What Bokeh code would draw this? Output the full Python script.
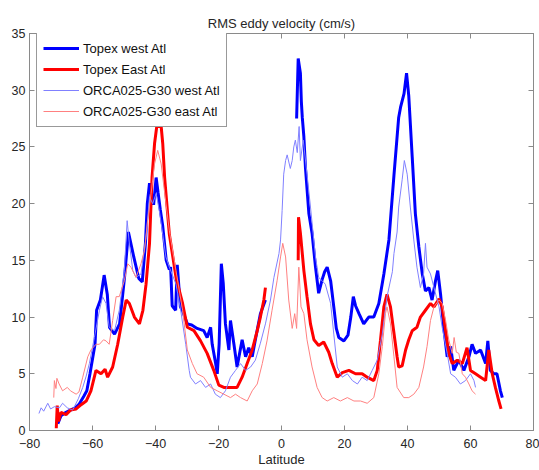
import numpy as np
from bokeh.plotting import figure
from bokeh.models import Range1d, LinearAxis, FixedTicker, CustomJSTickFormatter
from bokeh.embed import file_html
from bokeh.resources import INLINE

nan = np.nan

# Topex west Atl (thick blue) -- gap over the equator
tw_lat = [-71.0, -70.0, -68.4, -67.0, -65.5, -64.3, -62.8, -61.8, -60.8, -59.2, -58.7, -57.5, -56.3, -55.3,
          -54.6, -53.0, -51.4, -49.8, -48.6, -46.9, -45.3, -44.2, -43.2, -42.6, -41.9, -41.4, -40.6, -39.8,
          -39.2, -38.5, -37.7, -36.6, -35.6, -35.2, -34.7, -33.6, -33.1, -32.1, -31.5, -29.9, -28.5, -26.8,
          -24.7, -23.6, -22.5, -22.0, -20.9, -20.4, -19.8, -19.1, -18.5, -17.8, -16.7, -16.2, -15.1, -14.1,
          -12.5, -11.4, -10.4, -9.3, -8.3, -6.7, -5.1,
          nan,
          4.8, 5.3, 6.0, 6.3, 6.6, 7.1, 7.6, 8.7, 9.7, 10.8, 11.8, 12.9, 13.7, 14.5, 15.6, 16.6, 17.4, 18.2,
          19.8, 21.1, 22.0, 22.8, 23.5, 24.6, 26.1, 27.7, 29.3, 30.9, 32.5, 34.1, 35.7, 37.2, 37.8, 38.9,
          39.7, 40.4, 41.5, 42.5, 43.6, 44.7, 45.7, 46.8, 47.8, 48.9, 49.6, 50.5, 51.5, 52.6, 53.7, 54.7,
          56.3, 57.9, 59.5, 60.5, 61.6, 63.2, 64.8, 65.5, 66.3, 67.4, 68.4, 69.5, 70.1]
tw_val = [0.6, 1.3, 1.6, 1.8, 2.0, 2.3, 3.0, 3.5, 5.0, 7.6, 10.6, 11.5, 13.7, 12.0,
          9.1, 8.5, 9.4, 13.6, 17.5, 15.3, 13.4, 13.1, 16.5, 20.0, 21.8, 21.0, 19.9, 22.3,
          21.0, 19.5, 18.0, 15.0, 14.2, 14.4, 11.0, 10.6, 14.6, 10.9, 10.6, 9.4, 9.3, 9.0,
          8.8, 8.2, 9.1, 7.6, 5.9, 5.0, 7.6, 14.7, 13.0, 9.4, 7.1, 9.7, 7.6, 5.6,
          8.0, 6.5, 7.3, 6.5, 8.0, 10.3, 11.5,
          nan,
          27.5, 32.8, 31.5, 29.0, 27.6, 25.9, 23.2, 19.1, 17.4, 14.4, 12.1, 13.3, 14.0, 14.4, 13.2, 10.9, 9.0, 8.2,
          7.9, 8.4, 10.0, 11.8, 11.0, 10.3, 9.4, 10.0, 10.0, 11.2, 13.8, 16.8, 22.5, 27.6, 28.5, 29.7,
          31.5, 29.5, 24.1, 19.1, 16.2, 13.8, 12.3, 12.6, 11.5, 13.2, 14.1, 12.0, 9.1, 6.5, 7.4, 5.3,
          6.2, 5.3, 6.5, 7.6, 6.8, 7.1, 5.9, 7.9, 5.3, 5.0, 5.0, 3.5, 2.9]

# Topex East Atl (thick red)
te_lat = [-71.5, -71.2, -70.8, -70.0, -68.4, -67.0, -65.2, -63.5, -62.0, -60.5, -58.9, -57.3, -56.0, -55.2,
          -53.6, -52.0, -50.4, -49.3, -48.3, -46.7, -45.1, -44.0, -43.0, -41.9, -41.1, -40.3, -39.6, -38.2,
          -37.7, -37.1, -35.6, -33.5, -31.4, -29.9, -27.8, -25.7, -23.6, -21.5, -19.9, -18.3, -16.2, -14.1,
          -12.5, -10.9, -9.3, -7.7, -6.7, -5.6, -5.1,
          nan,
          5.3, 5.4, 6.0, 7.1, 8.1, 9.2, 10.3, 11.8, 13.4, 15.0, 16.1, 17.7, 19.3, 21.4, 23.5, 25.6, 27.2,
          29.3, 30.4, 31.4, 32.5, 33.5, 34.6, 35.6, 36.7, 37.2, 38.3, 39.4, 40.4, 41.5, 43.0, 44.1, 45.7,
          47.3, 48.4, 50.0, 51.0, 52.1, 53.1, 54.2, 55.8, 57.4, 58.9, 60.0, 61.6, 63.2, 64.8, 65.8, 66.9,
          67.9, 69.0, 69.7]
te_val = [0.2, 2.2, 0.8, 1.6, 1.4, 1.8, 1.9, 2.3, 2.6, 3.5, 5.3, 5.0, 5.4, 4.7,
          5.6, 7.6, 10.0, 11.5, 11.2, 10.0, 9.4, 10.6, 12.9, 16.5, 22.3, 25.3, 26.8, 26.8,
          25.3, 22.3, 17.3, 13.5, 11.2, 9.1, 8.8, 7.9, 6.8, 5.3, 4.0, 3.8, 3.8, 3.8,
          4.7, 5.9, 7.1, 8.8, 10.0, 11.5, 12.6,
          nan,
          15.0, 18.8, 17.4, 14.1, 11.8, 9.4, 8.0, 7.5, 7.8, 6.9, 5.9, 4.7, 5.1, 5.3, 5.0, 5.0, 4.7,
          4.4, 5.3, 7.9, 10.9, 12.0, 10.9, 8.8, 6.5, 5.6, 5.7, 7.1, 8.0, 8.8, 9.1, 10.0, 10.6,
          11.2, 10.9, 11.6, 10.9, 8.8, 6.8, 5.9, 6.2, 5.9, 7.3, 5.3, 5.0, 4.7, 4.4, 7.1, 5.0,
          3.8, 2.6, 1.9]

# ORCA025-G30 west Atl (thin blue)
ow_lat = [-77.0, -76.3, -75.5, -74.2, -73.3, -72.1, -70.5, -69.5, -68.0, -66.3, -64.5, -63.1, -62.0, -61.0,
          -59.4, -57.8, -56.8, -55.7, -54.7, -53.0, -51.5, -49.9, -49.0, -48.3, -47.2, -46.2, -44.6, -43.0,
          -41.9, -40.9, -39.8, -38.8, -37.7, -36.7, -35.6, -33.5, -32.0, -30.4, -29.3, -28.9, -27.3, -25.7,
          -24.1, -22.5, -21.0, -19.4, -17.8, -16.2, -14.6, -13.0, -11.4, -9.8, -8.3, -6.7, -5.1, -3.5,
          -2.4, -0.8, -0.3, 0.2, 0.7, 1.3, 1.8, 2.8, 3.4, 3.9, 4.4, 5.0, 5.6, 6.0, 6.9, 8.1, 9.2, 10.8,
          11.8, 12.9, 13.9, 15.6, 16.6, 17.7, 19.3, 20.9, 22.5, 24.1, 25.6, 27.2, 28.8, 30.4, 32.0, 33.5,
          35.2, 35.7, 36.7, 37.2, 38.3, 39.0, 39.9, 40.9, 42.0, 43.0, 44.1, 45.1, 45.7, 46.2, 47.3, 48.4,
          50.0, 51.0, 52.6, 53.7, 55.2, 56.8, 58.4, 60.0, 61.1, 61.6]
ow_val = [1.5, 2.0, 1.7, 2.4, 1.9, 2.1, 2.0, 2.4, 2.0, 1.8, 2.8, 3.8, 4.8, 5.9,
          8.2, 10.6, 11.8, 11.2, 9.1, 8.8, 10.6, 14.1, 18.5, 16.5, 14.1, 13.5, 13.8, 17.0,
          20.6, 20.0, 20.9, 19.4, 17.3, 15.3, 14.4, 12.9, 10.6, 7.6, 5.3, 4.7, 4.1, 4.4,
          3.8, 4.1, 3.2, 2.9, 3.5, 4.7, 5.3, 5.9, 5.3, 5.6, 6.2, 7.7, 9.4, 11.5,
          13.5, 15.6, 16.8, 19.4, 22.6, 23.8, 24.3, 23.1, 23.8, 25.0, 25.6, 24.5, 26.8, 23.8, 25.6, 22.6, 19.7, 15.3,
          13.5, 13.2, 12.9, 11.2, 8.5, 5.6, 4.7, 5.0, 4.4, 4.1, 4.7, 4.4, 5.3, 6.2, 8.5, 11.8,
          14.0, 15.6, 17.5, 19.7, 22.1, 23.8, 22.6, 19.7, 16.8, 14.4, 12.6, 13.8, 16.5, 14.4, 13.8, 12.6,
          10.9, 9.1, 6.8, 5.0, 4.7, 4.1, 4.4, 5.0, 4.4, 3.8]

# ORCA025-G30 east Atl (thin red)
oe_lat = [-72.3, -72.1, -71.6, -71.3, -70.6, -69.5, -68.0, -67.0, -65.2, -64.3, -63.1, -61.5, -60.5, -58.9,
          -57.8, -56.5, -55.7, -54.7, -53.6, -52.5, -51.5, -49.9, -48.8, -47.8, -46.2, -44.6, -43.5, -42.5,
          -41.4, -40.3, -39.3, -38.2, -37.2, -35.6, -33.5, -31.4, -29.9, -28.3, -26.8, -24.7, -22.5, -20.4,
          -18.3, -16.2, -14.6, -13.0, -10.9, -9.3, -7.7, -6.1, -4.6, -3.0, -1.4, -0.3, 0.4, 1.3, 2.3, 3.4,
          4.2, 4.8, 5.5, 6.2, 7.1, 8.1, 9.7, 11.3, 12.9, 14.5, 16.6, 18.7, 20.9, 23.0, 25.1, 27.2, 29.3,
          30.9, 32.0, 33.0, 33.5, 34.6, 35.7, 36.7, 38.8, 40.4, 42.0, 43.6, 45.1, 46.2, 47.3, 48.4, 50.0,
          51.0, 52.1, 53.1, 54.2, 54.8, 55.5, 56.3, 57.4, 58.4, 59.5, 60.5, 61.6]
oe_val = [2.9, 4.4, 3.7, 4.6, 4.1, 3.5, 3.8, 3.5, 3.2, 3.4, 4.7, 6.5, 7.1, 7.6,
          7.6, 8.0, 7.9, 7.6, 9.7, 11.8, 11.8, 13.2, 14.7, 14.4, 13.5, 14.7, 15.9, 18.5,
          20.9, 23.5, 24.7, 23.5, 21.2, 17.6, 14.1, 10.6, 7.1, 5.9, 5.0, 4.7, 3.8, 3.5,
          3.2, 2.9, 3.2, 2.9, 2.6, 3.5, 4.1, 5.9, 7.9, 10.6, 13.2, 15.3, 16.5, 15.3, 11.5, 9.0,
          10.3, 9.0, 14.4, 10.9, 10.3, 8.0, 5.6, 3.8, 2.9, 2.6, 2.9, 2.6, 2.9, 2.6, 2.6, 2.4, 2.9,
          5.0, 7.4, 10.3, 10.9, 9.4, 6.5, 3.8, 2.9, 2.9, 3.2, 3.8, 5.6, 7.4, 9.7, 10.9, 11.5,
          11.2, 9.7, 8.0, 6.8, 8.2, 6.9, 6.8, 5.0, 4.7, 4.1, 3.5, 3.2]

x_ticks = [-80, -60, -40, -20, 0, 20, 40, 60, 80]
y_ticks = [0, 5, 10, 15, 20, 25, 30, 35]

FONT = "Liberation Sans"
AXC = "#8a8a8a"
TXT = "#262626"

p = figure(width=539, height=470, output_backend="svg", toolbar_location=None,
           x_range=Range1d(-80, 80), y_range=Range1d(0, 35),
           min_border_left=29, min_border_right=6, min_border_top=33, min_border_bottom=40)
p.title.text = "RMS eddy velocity (cm/s)"
p.title.align = "center"
p.title.text_font = FONT
p.title.text_font_size = "13px"
p.title.text_font_style = "normal"
p.title.text_color = TXT
p.title.standoff = 6

p.grid.visible = False
p.outline_line_color = AXC
p.background_fill_color = "white"

p.line(tw_lat, tw_val, line_color="#0000ff", line_width=3, legend_label="Topex west Atl")
p.line(te_lat, te_val, line_color="#ff0000", line_width=3, legend_label="Topex East Atl")
p.line(ow_lat, ow_val, line_color="#8080ff", line_width=1, legend_label="ORCA025-G30 west Atl")
p.line(oe_lat, oe_val, line_color="#ff8080", line_width=1, legend_label="ORCA025-G30 east Atl")

for ax in (p.xaxis[0], p.yaxis[0]):
    ax.axis_line_color = AXC
    ax.major_tick_line_color = AXC
    ax.major_tick_in = 5
    ax.major_tick_out = 0
    ax.minor_tick_line_color = None
    ax.major_label_text_font = FONT
    ax.major_label_text_font_size = "12.5px"
    ax.major_label_text_color = TXT
p.xaxis[0].ticker = FixedTicker(ticks=x_ticks)
p.yaxis[0].ticker = FixedTicker(ticks=y_ticks)
p.xaxis[0].major_label_standoff = 8
p.yaxis[0].major_label_standoff = 4
p.xaxis[0].axis_label = "Latitude"
p.xaxis[0].axis_label_text_font = FONT
p.xaxis[0].axis_label_text_font_size = "13px"
p.xaxis[0].axis_label_text_font_style = "normal"
p.xaxis[0].axis_label_text_color = TXT
p.xaxis[0].axis_label_standoff = 1

top = LinearAxis(ticker=FixedTicker(ticks=x_ticks), formatter=CustomJSTickFormatter(code="return ''"))
right = LinearAxis(ticker=FixedTicker(ticks=y_ticks), formatter=CustomJSTickFormatter(code="return ''"))
for ax in (top, right):
    ax.axis_line_color = AXC
    ax.major_tick_line_color = AXC
    ax.major_tick_in = 5
    ax.major_tick_out = 0
    ax.minor_tick_line_color = None
    ax.major_label_standoff = 0
p.add_layout(top, "above")
p.add_layout(right, "right")

lg = p.legend[0]
lg.location = (7, 303)
lg.margin = 0
lg.padding = 6
lg.spacing = 3
lg.glyph_width = 36
lg.glyph_height = 18
lg.label_standoff = 4
lg.label_text_font = FONT
lg.label_text_font_size = "13px"
lg.label_text_color = "#111111"
lg.border_line_color = "#333333"
lg.border_line_width = 1
lg.background_fill_alpha = 1.0

open("out.html", "w").write(file_html(p, INLINE))
